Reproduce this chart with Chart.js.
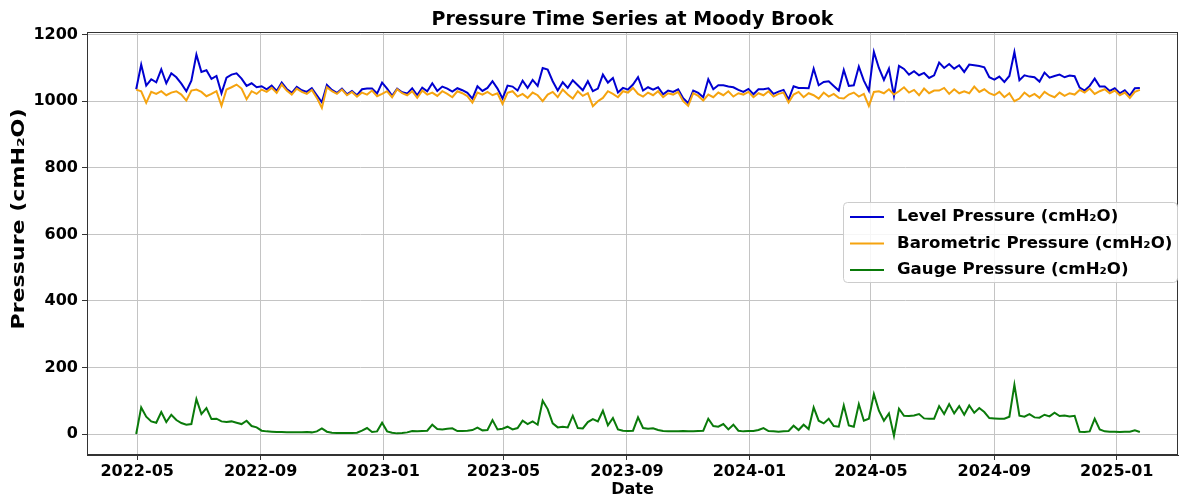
<!DOCTYPE html>
<html>
<head>
<meta charset="utf-8">
<script src="https://cdn.jsdelivr.net/npm/chart.js@4.4.1/dist/chart.umd.min.js"></script>
<style>
body { margin: 0; background: #fff; }
</style>
</head>
<body>
<canvas id="myChart" width="1184" height="499"></canvas>
<script>
// readings every 5 days starting from this date
var startDate = '2022-04-30';
var stepDays = 5;

var levelPressure = [
    1036, 1110, 1047, 1066, 1057, 1096, 1054, 1084, 1072, 1053,
    1030, 1062, 1140, 1088, 1093, 1067, 1076, 1024, 1071, 1080,
    1084, 1068, 1046, 1054, 1042, 1045, 1036, 1047, 1031, 1056,
    1037, 1025, 1043, 1033, 1028, 1039, 1018, 997, 1049, 1034,
    1025, 1038, 1021, 1031, 1018, 1036, 1038, 1038, 1023, 1056,
    1038, 1016, 1038, 1027, 1023, 1039, 1018, 1041, 1030, 1054,
    1031, 1044, 1038, 1029, 1039, 1033, 1025, 1008, 1045, 1031,
    1040, 1060, 1038, 1008, 1047, 1044, 1032, 1062, 1040, 1064,
    1046, 1100, 1095, 1060, 1032, 1057, 1040, 1063, 1048, 1033,
    1060, 1030, 1038, 1080, 1056, 1070, 1026, 1040, 1035, 1050,
    1072, 1032, 1042, 1035, 1042, 1021, 1032, 1028, 1036, 1009,
    994, 1032, 1025, 1012, 1066, 1036, 1048, 1048, 1044, 1042,
    1034, 1028, 1037, 1021, 1036, 1036, 1039, 1022, 1029, 1034,
    1005, 1045, 1040, 1040, 1039, 1098, 1048, 1058, 1060, 1046,
    1032, 1094, 1046, 1048, 1104, 1062, 1032, 1148, 1100, 1064,
    1098, 1016, 1106, 1097, 1080, 1090, 1078, 1085, 1070, 1078,
    1116, 1100, 1112, 1098, 1108, 1088, 1110, 1108, 1106, 1102,
    1072, 1065, 1074, 1058, 1076, 1148, 1063, 1078, 1074, 1072,
    1059, 1086, 1071, 1076, 1080, 1072, 1077, 1075, 1041, 1032,
    1046, 1068, 1044, 1044, 1031, 1039, 1024, 1033, 1017, 1039,
    1040
];

var baroPressure = [
    1035, 1030, 995, 1028, 1022, 1030, 1018, 1026, 1030, 1020,
    1002, 1032, 1035, 1028, 1015, 1022, 1030, 986, 1035, 1042,
    1050, 1038, 1006, 1030, 1022, 1035, 1028, 1040, 1025, 1050,
    1032, 1020, 1038, 1028, 1022, 1034, 1010, 980, 1042, 1030,
    1022, 1035, 1018, 1028, 1014, 1026, 1020, 1032, 1015, 1022,
    1030, 1012, 1036, 1024, 1018, 1030, 1010, 1032, 1020, 1026,
    1016, 1030, 1022, 1012, 1030, 1024, 1015, 996, 1026, 1020,
    1028, 1018, 1024, 992, 1025, 1030, 1014, 1022, 1010, 1026,
    1018, 1000, 1020, 1028, 1012, 1035, 1020, 1008, 1030, 1016,
    1024, 985, 1000, 1010, 1030, 1022, 1012, 1030, 1026, 1040,
    1022, 1014, 1026, 1018, 1030, 1012, 1024, 1020, 1028, 1000,
    986, 1024, 1016, 1002, 1020, 1012, 1026, 1018, 1030, 1014,
    1024, 1020, 1028, 1012, 1024, 1018, 1030, 1014, 1022, 1026,
    996, 1020, 1028, 1012, 1024, 1018, 1008, 1026, 1014, 1022,
    1010, 1008, 1020, 1026, 1014, 1022, 986, 1028, 1030, 1024,
    1036, 1020, 1030, 1042, 1026, 1034, 1018, 1038, 1024, 1032,
    1032, 1040, 1022, 1036, 1024, 1030, 1024, 1044, 1028, 1036,
    1024, 1018, 1028, 1012, 1024, 1000, 1008, 1026, 1014, 1022,
    1010, 1028, 1018, 1012, 1026, 1016, 1024, 1020, 1034, 1026,
    1038, 1022, 1030, 1036, 1024, 1032, 1018, 1026, 1010, 1028,
    1034
];

var gaugePressure = [
    0, 80, 52, 38, 34, 66, 36, 58, 42, 33,
    28, 30, 105, 60, 78, 45, 46, 38, 36, 38,
    34, 30, 40, 24, 20, 10, 8, 7, 6, 6,
    5, 5, 5, 5, 6, 5, 8, 17, 7, 4,
    3, 3, 3, 3, 4, 10, 18, 6, 8, 34,
    8, 4, 2, 3, 5, 9, 8, 9, 10, 28,
    15, 14, 16, 17, 9, 9, 10, 12, 19, 11,
    12, 42, 14, 16, 22, 14, 18, 40, 30, 38,
    28, 100, 75, 32, 20, 22, 20, 55, 18, 17,
    36, 45, 38, 70, 26, 48, 14, 10, 9, 10,
    50, 18, 16, 17, 12, 9, 8, 8, 8, 9,
    8, 8, 9, 10, 46, 24, 22, 30, 14, 28,
    10, 8, 9, 9, 12, 18, 9, 8, 7, 8,
    9, 25, 12, 28, 15, 80, 40, 32, 46, 24,
    22, 86, 26, 22, 90, 40, 46, 120, 70, 40,
    62, -5, 76, 55, 54, 56, 60, 47, 46, 46,
    84, 60, 90, 62, 84, 58, 86, 64, 78, 66,
    48, 47, 46, 46, 52, 148, 55, 52, 60, 50,
    49, 58, 53, 64, 54, 56, 53, 55, 7, 6,
    8, 46, 14, 8, 7, 7, 6, 7, 7, 11,
    6
];

var xTickLabels = ['2022-05', '2022-09', '2023-01', '2023-05', '2023-09', '2024-01', '2024-05', '2024-09', '2025-01'];
var yTickValues = [0, 200, 400, 600, 800, 1000, 1200];
var xRange = ['2022-03-12', '2025-03-03'];
var yRange = [-63, 1208];

var DAY = 86400000;
var fontFamily = '"DejaVu Sans", sans-serif';

function toTime(s) {
    var p = s.split('-');
    return Date.UTC(+p[0], +p[1] - 1, p[2] ? +p[2] : 1);
}

function monthLabel(v) {
    var d = new Date(v);
    var m = d.getUTCMonth() + 1;
    return d.getUTCFullYear() + '-' + (m < 10 ? '0' + m : m);
}

function series(values) {
    var t0 = toTime(startDate);
    return values.map(function (v, i) {
        return { x: t0 + i * stepDays * DAY, y: v };
    });
}

// title, y axis label, frame and legend drawn over the chart
var decorations = {
    id: 'decorations',
    afterDraw: function (chart) {
        var c = chart.ctx;
        var a = chart.chartArea;
        c.save();
        c.strokeStyle = '#333';
        c.lineWidth = 1;
        c.strokeRect(Math.round(a.left) + 0.5, Math.round(a.top) + 0.5,
            Math.round(a.right - a.left) - 1, Math.round(a.bottom - a.top) - 1);

        c.fillStyle = '#000';
        c.font = 'bold 19px ' + fontFamily;
        c.textAlign = 'center';
        c.textBaseline = 'alphabetic';
        c.fillText('Pressure Time Series at Moody Brook', (a.left + a.right) / 2, 25);

        c.save();
        c.translate(24, 219);
        c.rotate(-Math.PI / 2);
        c.scale(1.3, 1);
        c.font = 'bold 17px ' + fontFamily;
        c.fillText('Pressure (cmH\u2082O)', 0, 0);
        c.restore();

        // legend
        var bx = 843, by = 202, bw = 334, bh = 80;
        c.beginPath();
        c.roundRect(bx + 0.5, by + 0.5, bw, bh, 4);
        c.fillStyle = 'rgba(255,255,255,0.85)';
        c.fill();
        c.strokeStyle = '#cccccc';
        c.stroke();
        c.font = 'bold 16.6px ' + fontFamily;
        c.textAlign = 'left';
        c.textBaseline = 'middle';
        chart.data.datasets.forEach(function (ds, i) {
            var y = 217 + i * 26.5;
            c.strokeStyle = ds.borderColor;
            c.lineWidth = 2;
            c.beginPath();
            c.moveTo(850, y);
            c.lineTo(884, y);
            c.stroke();
            c.fillStyle = '#000';
            c.fillText(ds.label, 897, y);
        });
        c.restore();
    }
};

var ctx = document.getElementById('myChart').getContext('2d');

var myChart = new Chart(ctx, {
    type: 'line',
    data: {
        datasets: [{
            label: 'Level Pressure (cmH\u2082O)',
            data: series(levelPressure),
            borderColor: '#0000d0',
            borderWidth: 2,
            pointRadius: 0,
            fill: false,
            order: 3
        }, {
            label: 'Barometric Pressure (cmH\u2082O)',
            data: series(baroPressure),
            borderColor: '#f5a30f',
            borderWidth: 2,
            pointRadius: 0,
            fill: false,
            order: 2
        }, {
            label: 'Gauge Pressure (cmH\u2082O)',
            data: series(gaugePressure),
            borderColor: '#0a7a0a',
            borderWidth: 2,
            pointRadius: 0,
            fill: false,
            order: 1
        }]
    },
    options: {
        responsive: false,
        animation: false,
        layout: {
            padding: { top: 32, right: 6, left: 0, bottom: 0 }
        },
        plugins: {
            legend: { display: false },
            title: { display: false },
            tooltip: { enabled: false }
        },
        scales: {
            x: {
                type: 'linear',
                min: toTime(xRange[0]),
                max: toTime(xRange[1]),
                afterBuildTicks: function (scale) {
                    scale.ticks = xTickLabels.map(function (l) { return { value: toTime(l) }; });
                },
                afterFit: function (scale) { scale.height = 44; },
                ticks: {
                    autoSkip: false,
                    maxRotation: 0,
                    padding: 2,
                    color: '#000',
                    font: { family: fontFamily, size: 16, weight: 'bold' },
                    callback: function (v) { return monthLabel(v); }
                },
                grid: { color: '#c4c4c4', tickColor: '#333', tickLength: 5 },
                border: { color: '#333' },
                title: {
                    display: true,
                    text: 'Date',
                    color: '#000',
                    font: { family: fontFamily, size: 16, weight: 'bold' },
                    padding: { top: 0, bottom: 0 }
                }
            },
            y: {
                min: yRange[0],
                max: yRange[1],
                afterBuildTicks: function (scale) {
                    scale.ticks = yTickValues.map(function (v) { return { value: v }; });
                },
                afterFit: function (scale) { scale.width = 87; },
                ticks: {
                    padding: 4,
                    color: '#000',
                    font: { family: fontFamily, size: 16, weight: 'bold' },
                    callback: function (v) { return String(v); }
                },
                grid: { color: '#c4c4c4', tickColor: '#333', tickLength: 5 },
                border: { color: '#333' }
            }
        }
    },
    plugins: [decorations]
});
</script>
</body>
</html>
